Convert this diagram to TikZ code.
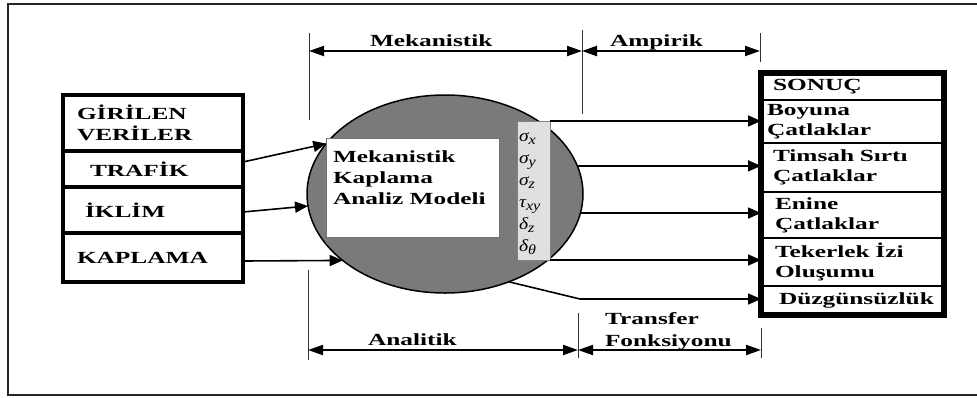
\documentclass[tikz,border=0pt]{standalone}
\usepackage{fontspec}
\setmainfont{Liberation Serif}[FakeStretch=1.49]
\newfontfamily\symf{Liberation Serif}[FakeStretch=1.15]
\usetikzlibrary{arrows.meta,shapes.geometric}

\begin{document}
\begin{tikzpicture}[x=1pt,y=-1pt,
  every node/.style={outer sep=0pt, font=\bfseries\fontsize{17}{21}\selectfont},
  lcell/.style={draw, line width=4pt, minimum width=180pt, text width=160pt,
    inner xsep=10pt, inner ysep=0pt, align=left, anchor=north west},
  rcell/.style={draw, line width=1.5pt, minimum width=183pt, text width=175pt,
    inner xsep=4pt, inner ysep=0pt, align=left, anchor=north west,
    font=\bfseries\fontsize{17}{20}\selectfont},
  arr/.style={line width=1.6pt, -{Triangle[length=13pt,width=11pt]}},
  dim/.style={line width=2pt,
    {Triangle[length=15pt,width=10pt]}-{Triangle[length=15pt,width=10pt]}},
  tick/.style={line width=1pt, draw=black!80},
  sym/.style={font=\symf\itshape\fontsize{17}{17}\selectfont, anchor=base west, inner sep=0pt},
]
\useasboundingbox (0,0) rectangle (977,397);

% outer frame
\draw[line width=2pt, draw=black!85] (8,4) rectangle (1000,395);

% input data table
\node[lcell, minimum height=56pt] (giris) at (63,95) {\hspace*{4pt}GİRİLEN\\\hspace*{4pt}VERİLER};
\node[lcell, minimum height=36pt] (trafik) at (63,151) {\hspace*{17pt}TRAFİK};
\node[lcell, minimum height=46pt] (iklim) at (63,187) {\hspace*{12pt}İKLİM};
\node[lcell, minimum height=49pt] (kaplama) at (63,233) {\hspace*{4pt}KAPLAMA};

% mechanistic model
\node[ellipse, draw, line width=1.5pt, fill=black!52, minimum width=276pt,
  minimum height=198pt, inner sep=0pt] (E) at (445,194) {};
\node[draw=black!55, line width=0.8pt, fill=white, minimum width=173pt,
  minimum height=99pt, anchor=north west, inner sep=0pt] (model) at (326,138) {};
\node[anchor=north west, align=left, inner sep=0pt] (modeltxt) at (333,151)
  {Mekanistik\\Kaplama\\Analiz Modeli};

% stress / strain column
\node[draw=black!50, line width=0.8pt, fill=black!12, minimum width=33pt,
  minimum height=139pt, anchor=north west, inner sep=0pt] (col) at (517,121) {};
\newcommand{\lowsub}[1]{\raisebox{-3pt}{\fontsize{14}{14}\selectfont #1}}
\node[sym] (s1) at (519,141) {σ\lowsub{x}};
\node[sym] (s2) at (519,163) {σ\lowsub{y}};
\node[sym] (s3) at (519,185) {σ\lowsub{z}};
\node[sym] (s4) at (519,207) {τ\lowsub{xy}};
\node[sym] (s5) at (519,229) {δ\lowsub{z}};
\node[sym] (s6) at (519,251) {δ\lowsub{θ}};

% results table
\node[rcell, minimum height=27pt] (sonuc) at (761,73) {\hspace*{8pt}SONUÇ};
\node[rcell, minimum height=43pt] (boyuna) at (761,100) {\hspace*{2pt}Boyuna\\\hspace*{2pt}Çatlaklar};
\node[rcell, minimum height=49pt] (timsah) at (761,143) {\hspace*{8pt}Timsah Sırtı\\\hspace*{8pt}Çatlaklar};
\node[rcell, minimum height=46pt] (enine) at (761,192) {\hspace*{10pt}Enine\\\hspace*{10pt}Çatlaklar};
\node[rcell, minimum height=48pt] (teker) at (761,238) {\hspace*{10pt}Tekerlek İzi\\\hspace*{10pt}Oluşumu};
\node[rcell, minimum height=29pt] (duz) at (761,286) {\hspace*{14pt}Düzgünsüzlük};
\node[draw, line width=5.5pt, minimum width=183pt, minimum height=242pt,
  anchor=north west, inner sep=0pt] (sonucbox) at (761,73) {};

% inputs into the model
\draw[arr] ([yshift=7pt]trafik.east) -- (E.157);
\draw[arr] ([yshift=-2pt]iklim.east) -- (E.185);
\draw[arr] ([yshift=-3.5pt]kaplama.east) -- (E.213);

% outputs to the distresses
\draw[arr] (col.north east) -- (col.north east -| boyuna.west);
\draw[arr] (E.12) -- (E.12 -| timsah.west);
\draw[arr] (E.-8) -- (E.-8 -| enine.west);
\draw[arr] (col.south east) -- (col.south east -| teker.west);
\coordinate (bend) at (580,299);
\draw[arr] (E.-54) -- (bend) -- (bend -| duz.west);

% dimension lines
\coordinate (m1) at (309,51);
\coordinate (m2) at (582,51);
\coordinate (m3) at (760,51);
\coordinate (a1) at (308,350);
\coordinate (a2) at (578,350);
\coordinate (a3) at (761,350);

\draw[tick] ([yshift=18pt]m1) -- ([yshift=-69pt]m1);
\draw[tick] ([yshift=21pt]m2) -- ([yshift=-63pt]m2);
\draw[tick] ([yshift=18pt]m3) -- ([yshift=-11pt]m3);
\draw[tick] ([yshift=80pt]a1) -- ([yshift=-10pt]a1);
\draw[tick] ([yshift=37pt]a2) -- ([yshift=-8pt]a2);
\draw[tick] ([yshift=22pt]a3) -- ([yshift=-8pt]a3);

\draw[dim] (m1) -- (m2);
\draw[dim] (m2) -- (m3);
\draw[dim] (a1) -- (a2);
\draw[dim] (a2) -- (a3);

\node[anchor=base west, inner sep=0pt] (lmek) at (370,46) {Mekanistik};
\node[anchor=base west, inner sep=0pt] (lamp) at (610,46) {Ampirik};
\node[anchor=base west, inner sep=0pt] (lana) at (368,345) {Analitik};
\node[anchor=north west, align=left, inner sep=0pt,
  font=\bfseries\fontsize{17}{22}\selectfont] (ltr) at (605,313) {Transfer\\Fonksiyonu};
\end{tikzpicture}
\end{document}
